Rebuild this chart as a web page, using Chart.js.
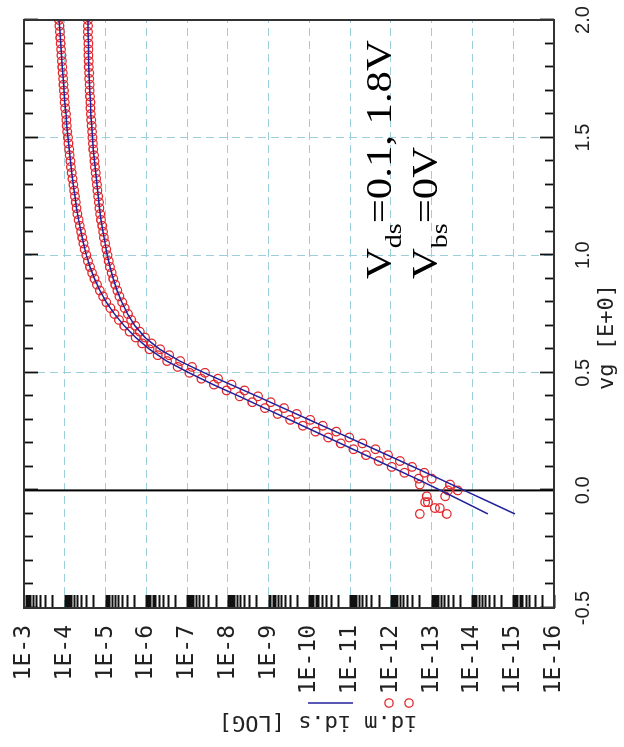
<!DOCTYPE html>
<html lang="en">
<head>
<meta charset="UTF-8">
<title>id - vg</title>
<script src="https://cdn.jsdelivr.net/npm/chart.js"></script>
<style>
  html, body { margin: 0; padding: 0; background: #fff; overflow: hidden; }
  /* plot is laid out landscape and turned a quarter turn to the left */
  .plot {
    position: absolute; left: 0; top: 0;
    width: 747px; height: 624px;
    transform-origin: 0 0;
    transform: translateY(747px) rotate(-90deg);
  }
</style>
</head>
<body>
<div class="plot"><canvas id="idvg" width="747" height="624"></canvas></div>
<script>
// gate voltage of the simulated sweep (V)
var vgSim = [-0.10, -0.05, 0.00, 0.05, 0.10, 0.15, 0.20, 0.25, 0.30, 0.35,
             0.40, 0.45, 0.50, 0.55, 0.60, 0.65, 0.70, 0.75, 0.80, 0.85,
             0.90, 0.95, 1.00, 1.05, 1.10, 1.15, 1.20, 1.25, 1.30, 1.35,
             1.40, 1.45, 1.50, 1.55, 1.60, 1.65, 1.70, 1.75, 1.80, 1.85,
             1.90, 1.95, 2.00];
// log10(id.s) for vds = 0.1 V and 1.8 V
var logIdSim01 = [-15.04, -14.42, -13.80, -13.18, -12.55, -11.92, -11.28, -10.64, -10.00, -9.36,
                  -8.72, -8.07, -7.42, -6.82, -6.33, -5.97, -5.72, -5.54, -5.40, -5.28,
                  -5.19, -5.11, -5.04, -4.99, -4.94, -4.89, -4.85, -4.82, -4.79, -4.76,
                  -4.73, -4.70, -4.68, -4.66, -4.64, -4.63, -4.61, -4.60, -4.59, -4.58,
                  -4.58, -4.57, -4.57];
var logIdSim18 = [-14.38, -13.80, -13.22, -12.62, -12.00, -11.38, -10.76, -10.14, -9.52, -8.90,
                  -8.28, -7.64, -7.05, -6.50, -6.08, -5.74, -5.46, -5.22, -5.02, -4.86,
                  -4.73, -4.62, -4.53, -4.46, -4.40, -4.34, -4.29, -4.25, -4.21, -4.17,
                  -4.14, -4.11, -4.08, -4.05, -4.03, -4.00, -3.98, -3.96, -3.94, -3.92,
                  -3.90, -3.88, -3.86];

// gate voltage of the measured sweep (V)
var vgMeas = [-0.100, -0.075, -0.050, -0.025, 0.000, 0.025, 0.050, 0.075,
              0.100, 0.125, 0.150, 0.175, 0.200, 0.225, 0.250, 0.275,
              0.300, 0.325, 0.350, 0.375, 0.400, 0.425, 0.450, 0.475,
              0.500, 0.525, 0.550, 0.575, 0.600, 0.625, 0.650, 0.675,
              0.700, 0.725, 0.750, 0.775, 0.800, 0.825, 0.850, 0.875,
              0.900, 0.925, 0.950, 0.975, 1.000, 1.025, 1.050, 1.075,
              1.100, 1.125, 1.150, 1.175, 1.200, 1.225, 1.250, 1.275,
              1.300, 1.325, 1.350, 1.375, 1.400, 1.425, 1.450, 1.475,
              1.500, 1.525, 1.550, 1.575, 1.600, 1.625, 1.650, 1.675,
              1.700, 1.725, 1.750, 1.775, 1.800, 1.825, 1.850, 1.875,
              1.900, 1.925, 1.950, 1.975, 2.000];
// log10(id.m) for vds = 0.1 V and 1.8 V
var logIdMeas01 = [-12.71, -13.08, -12.84, -12.88, -13.64, -12.71, -13.00, -12.82,
                   -12.52, -12.22, -11.93, -11.62, -11.30, -10.98, -10.66, -10.33,
                   -10.02, -9.69, -9.38, -9.05, -8.74, -8.41, -8.09, -7.76,
                   -7.44, -7.12, -6.83, -6.56, -6.34, -6.13, -5.97, -5.84,
                   -5.73, -5.63, -5.55, -5.47, -5.41, -5.34, -5.29, -5.24,
                   -5.19, -5.15, -5.11, -5.08, -5.05, -5.02, -4.99, -4.96,
                   -4.94, -4.92, -4.89, -4.87, -4.85, -4.84, -4.82, -4.80,
                   -4.79, -4.77, -4.76, -4.74, -4.73, -4.72, -4.70, -4.69,
                   -4.68, -4.67, -4.66, -4.65, -4.64, -4.63, -4.63, -4.62,
                   -4.61, -4.61, -4.60, -4.60, -4.59, -4.59, -4.58, -4.58,
                   -4.58, -4.57, -4.57, -4.57, -4.57];
var logIdMeas18 = [-13.37, -13.20, -12.91, -13.33, -13.40, -13.45, -12.68, -12.33,
                   -12.02, -11.70, -11.39, -11.08, -10.77, -10.46, -10.15, -9.84,
                   -9.53, -9.22, -8.91, -8.60, -8.29, -7.97, -7.66, -7.35,
                   -7.06, -6.77, -6.51, -6.28, -6.08, -5.90, -5.74, -5.59,
                   -5.46, -5.33, -5.22, -5.12, -5.02, -4.94, -4.86, -4.79,
                   -4.73, -4.67, -4.62, -4.57, -4.53, -4.49, -4.46, -4.43,
                   -4.40, -4.37, -4.34, -4.31, -4.29, -4.27, -4.25, -4.23,
                   -4.21, -4.19, -4.17, -4.15, -4.14, -4.12, -4.11, -4.09,
                   -4.08, -4.06, -4.05, -4.04, -4.03, -4.01, -4.00, -3.99,
                   -3.98, -3.97, -3.96, -3.95, -3.94, -3.93, -3.92, -3.91,
                   -3.90, -3.89, -3.88, -3.87, -3.86];

// axis ticks
var vgTicks = [-0.5, 0.0, 0.5, 1.0, 1.5, 2.0];
var vgGrid = [0.5, 1.0, 1.5];
var idDecades = [-16, -15, -14, -13, -12, -11, -10, -9, -8, -7, -6, -5, -4, -3];

var RED = '#e1282c';
var BLUE = '#22229c';
var GRID = '#9ccfdc';
var MONO = '"DejaVu Sans Mono", monospace';

function toPoints(xs, logs) {
    return xs.map(function (v, i) { return { x: v, y: Math.pow(10, logs[i]) }; });
}

// keep the plot box fixed: no extra room for overhanging tick labels
function fixBox(size) {
    return function (s) {
        if (s.isHorizontal()) s.height = size; else s.width = size;
        s.paddingLeft = s.paddingRight = s.paddingTop = s.paddingBottom = 0;
    };
}

// frame, inward ticks, vg = 0 line, axis titles, legend keys and bias note
var decorations = {
    id: 'decorations',
    beforeDatasetsDraw: function (chart) {
        var ctx = chart.ctx, a = chart.chartArea;
        var x0 = chart.scales.x.getPixelForValue(0);
        ctx.save();
        ctx.strokeStyle = '#000';
        ctx.lineWidth = 2;
        ctx.beginPath();
        ctx.moveTo(x0, a.top);
        ctx.lineTo(x0, a.bottom);
        ctx.stroke();
        ctx.restore();
    },
    afterDatasetsDraw: function (chart) {
        var ctx = chart.ctx, a = chart.chartArea;
        var xs = chart.scales.x, ys = chart.scales.y;
        ctx.save();
        ctx.strokeStyle = '#111';
        ctx.lineWidth = 1.8;
        ctx.beginPath();
        // vg ticks every 0.1 on top and bottom edges
        for (var i = -5; i <= 20; i++) {
            var px = Math.round(xs.getPixelForValue(i / 10)) + 0.5;
            var len = (i % 5 === 0) ? 14 : 9;
            ctx.moveTo(px, a.bottom); ctx.lineTo(px, a.bottom - len);
            ctx.moveTo(px, a.top); ctx.lineTo(px, a.top + len);
        }
        // log ticks 1..9 per decade on the left edge
        for (var e = -16; e < -3; e++) {
            for (var k = 1; k <= 9; k++) {
                var py = Math.round(ys.getPixelForValue(k * Math.pow(10, e))) + 0.5;
                ctx.moveTo(a.left, py); ctx.lineTo(a.left + 13, py);
            }
        }
        ctx.stroke();
        ctx.strokeStyle = '#333';
        ctx.lineWidth = 2;
        ctx.strokeRect(a.left, a.top, a.right - a.left, a.bottom - a.top);
        ctx.restore();
    },
    afterDraw: function (chart) {
        var ctx = chart.ctx;
        ctx.save();
        ctx.fillStyle = '#222';
        ctx.font = '22px ' + MONO;
        ctx.textAlign = 'center';
        ctx.textBaseline = 'middle';
        ctx.fillText('vg [E+0]', 410, 607);

        ctx.save();
        ctx.translate(25, 318);
        ctx.rotate(-Math.PI / 2);
        ctx.fillText('id.m id.s [LOG]', 0, 0);
        ctx.restore();

        // legend keys beside the id title
        ctx.strokeStyle = BLUE;
        ctx.lineWidth = 1.5;
        ctx.beginPath();
        ctx.moveTo(44, 308); ctx.lineTo(44, 353);
        ctx.stroke();
        ctx.strokeStyle = RED;
        ctx.lineWidth = 1.3;
        [389, 409].forEach(function (cy) {
            ctx.beginPath();
            ctx.arc(44, cy, 4.2, 0, Math.PI * 2);
            ctx.stroke();
        });

        // bias conditions, set in a wide serif
        ctx.fillStyle = '#000';
        ctx.textAlign = 'left';
        ctx.textBaseline = 'alphabetic';
        function subText(x, y, main, sub, rest) {
            ctx.save();
            ctx.translate(x, y);
            ctx.scale(1.22, 1);
            var cx = 0;
            ctx.font = '35px "Liberation Serif", serif';
            ctx.fillText(main, cx, 0);
            cx += ctx.measureText(main).width;
            ctx.font = '23px "Liberation Serif", serif';
            ctx.fillText(sub, cx, 10);
            cx += ctx.measureText(sub).width;
            ctx.font = '35px "Liberation Serif", serif';
            ctx.fillText(rest, cx, 0);
            ctx.restore();
        }
        subText(468, 391, 'V', 'ds', '=0.1, 1.8V');
        subText(468, 437, 'V', 'bs', '=0V');
        ctx.restore();
    }
};

var ctx = document.getElementById('idvg').getContext('2d');
new Chart(ctx, {
    type: 'scatter',
    data: {
        datasets: [
            { label: 'id.s vds=0.1', data: toPoints(vgSim, logIdSim01), showLine: true,
              borderColor: BLUE, borderWidth: 1.5, pointRadius: 0, clip: 0 },
            { label: 'id.s vds=1.8', data: toPoints(vgSim, logIdSim18), showLine: true,
              borderColor: BLUE, borderWidth: 1.5, pointRadius: 0, clip: 0 },
            { label: 'id.m vds=0.1', data: toPoints(vgMeas, logIdMeas01),
              borderColor: RED, backgroundColor: 'rgba(0,0,0,0)', borderWidth: 1.3,
              pointRadius: 4.3, clip: 0 },
            { label: 'id.m vds=1.8', data: toPoints(vgMeas, logIdMeas18),
              borderColor: RED, backgroundColor: 'rgba(0,0,0,0)', borderWidth: 1.3,
              pointRadius: 4.3, clip: 0 }
        ]
    },
    options: {
        responsive: false,
        animation: false,
        devicePixelRatio: 1,
        layout: { padding: { left: 0, right: 20, top: 24, bottom: 0 } },
        plugins: {
            legend: { display: false },
            tooltip: { enabled: false }
        },
        scales: {
            x: {
                type: 'linear',
                min: -0.5,
                max: 2.0,
                afterBuildTicks: function (s) {
                    s.ticks = vgTicks.map(function (v) { return { value: v }; });
                },
                afterFit: fixBox(70),
                ticks: {
                    maxRotation: 0,
                    padding: 17,
                    color: '#222',
                    font: { family: '"Liberation Sans", Arial, sans-serif', size: 20 },
                    callback: function (v) { return Number(v).toFixed(1); }
                },
                grid: {
                    drawTicks: false,
                    lineWidth: 1,
                    color: function (c) {
                        return (c.tick && vgGrid.indexOf(c.tick.value) >= 0) ? GRID : 'rgba(0,0,0,0)';
                    }
                },
                border: { display: false, dash: [8, 5] }
            },
            y: {
                type: 'logarithmic',
                min: 1e-16,
                max: 1e-3,
                afterBuildTicks: function (s) {
                    s.ticks = idDecades.map(function (e) { return { value: Math.pow(10, e), major: true }; });
                },
                afterFit: fixBox(139),
                ticks: {
                    autoSkip: false,
                    padding: 17,
                    color: '#222',
                    font: { family: MONO, size: 23 },
                    callback: function (v) { return '1E' + Math.round(Math.log10(v)); }
                },
                grid: { drawTicks: false, lineWidth: 1, color: GRID },
                border: { display: false, dash: [8, 5] }
            }
        }
    },
    plugins: [decorations]
});
</script>
</body>
</html>
